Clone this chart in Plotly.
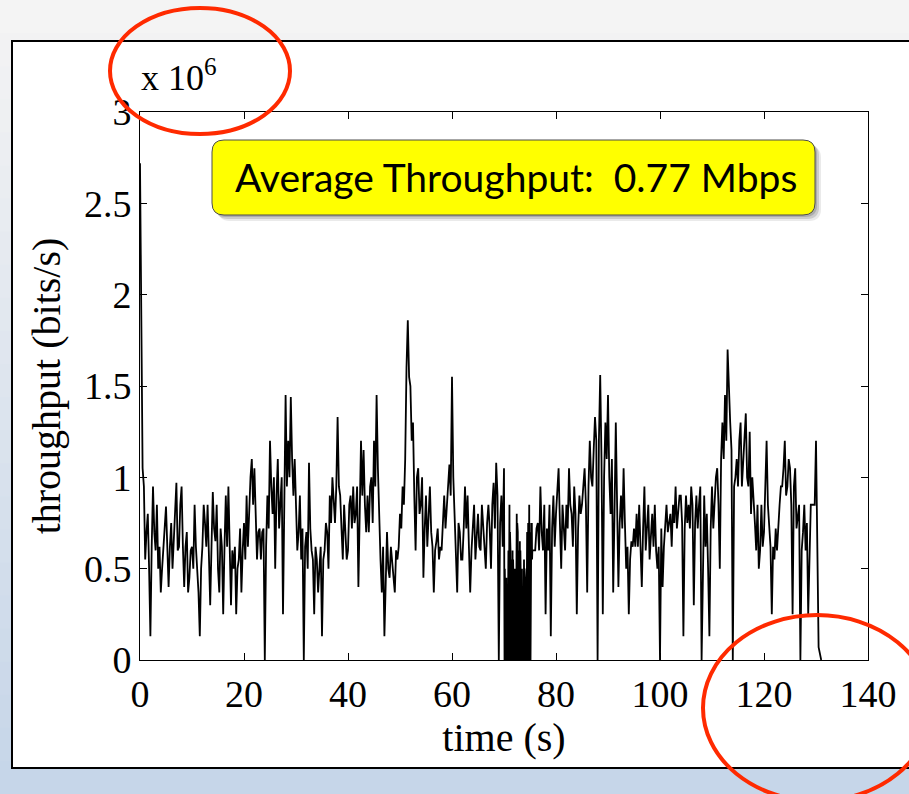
import numpy as np
import plotly.graph_objects as go

# ---- data (throughput in units of 10^6 bits/s) ----
# main samples every 0.5 s
thr_000_020 = [2.72, 1.05, 0.55, 0.8, 0.13, 0.95, 0.6, 0.5, 0.37, 0.6,
               0.84, 0.4, 0.75, 0.65, 0.97, 0.62, 0.95, 0.4, 0.7, 0.45,
               0.62, 0.85, 0.5, 0.13, 0.62, 0.75, 0.85, 0.3, 0.92, 0.65,
               0.5, 0.72, 0.25, 0.9, 0.95, 0.3, 0.5, 0.25, 0.55, 0.37]
thr_020_040 = [0.75, 0.9, 0.85, 1.1, 1.05, 0.55, 0.72, 0.7, 0.0, 0.9,
               1.2, 0.8, 0.5, 1.1, 0.9, 0.25, 1.45, 1.2, 1.44, 0.9,
               0.85, 0.7, 0.55, 0.0, 0.7, 1.08, 0.6, 0.25, 0.55, 0.5,
               0.13, 0.6, 0.7, 0.9, 1.0, 0.75, 1.33, 0.9, 0.55, 0.72]
thr_040_060 = [0.6, 0.9, 0.95, 0.8, 0.4, 1.2, 1.15, 0.7, 0.7, 1.0,
               1.2, 1.45, 0.75, 0.37, 0.13, 0.7, 0.45, 0.55, 0.37, 0.55,
               0.8, 0.95, 1.1, 1.86, 1.5, 1.3, 0.6, 1.05, 0.85, 0.45,
               0.9, 0.75, 0.7, 0.37, 0.65, 0.55, 0.6, 0.9, 0.85, 1.07]
thr_060_070 = [1.55, 0.75, 0.37, 0.7, 0.55, 0.95, 0.9, 0.37, 0.7, 0.55,
               0.8, 0.6, 0.75, 0.5, 0.85, 0.5, 0.97, 1.08, 0.0, 0.9, 1.05]
thr_076_096 = [0.6, 0.75, 0.95, 0.6, 0.25, 0.6, 0.13, 0.9, 0.8, 1.05,
               0.5, 0.75, 0.85, 1.05, 0.8, 0.95, 0.25, 0.9, 0.85, 1.05,
               0.37, 1.2, 0.95, 1.33, 0.0, 1.56, 0.25, 1.3, 1.45, 0.8,
               0.37, 1.3, 0.4, 0.9, 1.05, 0.5, 0.25, 0.65, 0.72, 0.8]
thr_096_116 = [0.85, 0.4, 0.95, 0.7, 0.55, 0.8, 0.85, 0.5, 0.0, 0.4,
               0.75, 0.7, 0.8, 0.85, 0.95, 0.8, 0.9, 0.13, 0.9, 0.85,
               0.95, 0.3, 0.9, 0.85, 0.0, 0.9, 0.8, 0.13, 0.95, 0.9,
               1.05, 0.5, 1.3, 1.45, 1.7, 1.3, 0.0, 1.0, 0.95, 1.3]
thr_116_131 = [1.1, 1.35, 0.95, 0.8, 0.9, 0.6, 0.5, 0.85, 0.7, 1.2,
               0.7, 0.25, 0.55, 0.6, 0.85, 0.95, 1.2, 0.95, 1.05, 0.25,
               1.05, 0.8, 0.0, 0.7, 0.6, 0.25, 0.85, 0.85, 1.2, 0.07, 0.0]

# in-between samples (read at the quarter seconds, t + 0.25 s)
mid_000_020 = [1.6, 0.95, 0.7, 0.5, 0.62, 0.7, 0.85, 0.62, 0.5, 0.72,
               0.62, 0.62, 0.5, 0.8, 0.6, 0.85, 0.62, 0.62, 0.37, 0.6,
               0.5, 0.62, 0.37, 0.5, 0.85, 0.62, 0.6, 0.62, 0.72, 0.85,
               0.37, 0.62, 0.62, 0.62, 0.62, 0.6, 0.62, 0.5, 0.72, 0.6]
mid_020_040 = [0.55, 0.62, 1.0, 0.85, 0.72, 0.7, 0.55, 0.72, 0.62, 0.72,
               0.95, 1.0, 0.9, 0.72, 1.0, 0.95, 0.95, 1.0, 1.1, 1.1,
               0.6, 0.9, 0.72, 0.62, 0.5, 0.72, 0.55, 0.62, 0.37, 0.62,
               0.55, 0.75, 0.5, 0.75, 0.85, 0.95, 0.95, 0.72, 0.85, 0.55]
mid_040_060 = [0.85, 0.72, 0.75, 0.95, 0.72, 0.9, 0.85, 0.9, 0.95, 0.75,
               0.95, 1.05, 0.55, 0.62, 0.5, 0.5, 0.62, 0.45, 0.6, 0.62,
               0.72, 0.85, 1.6, 1.55, 1.2, 0.9, 1.0, 0.8, 1.0, 0.72,
               0.62, 0.95, 0.62, 0.6, 0.72, 0.62, 0.75, 0.72, 0.95, 0.9]
mid_060_070 = [1.0, 0.62, 0.75, 0.55, 0.72, 0.72, 0.62, 0.6, 0.85, 0.72,
               0.62, 0.85, 0.6, 0.75, 0.72, 0.85, 0.72, 0.9, 0.75, 0.62]
mid_076_096 = [0.72, 0.6, 0.7, 0.85, 0.72, 0.85, 0.72, 0.62, 0.95, 0.75,
               0.85, 0.6, 0.72, 0.85, 0.62, 0.8, 0.72, 0.8, 0.95, 0.85,
               0.95, 1.0, 1.15, 1.2, 1.2, 1.1, 1.0, 1.1, 1.0, 1.1,
               0.8, 0.85, 0.75, 0.72, 0.75, 0.62, 0.55, 0.62, 0.62, 0.62]
mid_096_116 = [0.62, 0.72, 0.6, 0.85, 0.72, 0.62, 0.6, 0.62, 0.72, 0.62,
               0.85, 0.75, 0.62, 0.75, 0.72, 0.9, 0.75, 0.72, 0.75, 0.72,
               0.85, 0.75, 0.72, 0.95, 0.62, 0.62, 0.5, 0.72, 0.72, 1.0,
               0.85, 1.1, 1.1, 1.2, 1.45, 1.15, 0.95, 1.1, 1.2, 0.95]
mid_116_131 = [1.2, 1.0, 1.25, 1.0, 0.75, 0.85, 0.6, 0.62, 0.95, 0.85,
               0.62, 0.62, 0.72, 0.75, 0.95, 1.05, 0.9, 1.1, 0.85, 0.95,
               0.72, 0.85, 0.6, 0.85, 0.75, 0.62, 0.85, 0.85]

# outage burst 70.1 - 75.5 s: lows every 0.1 s, highs in between
burst_low = [0.0, 0.0, 0.0, 0.0, 0.0, 0.0, 0.0, 0.0, 0.0, 0.0,
             0.0, 0.0, 0.0, 0.1, 0.0, 0.0, 0.0, 0.0, 0.0, 0.0,
             0.0, 0.0, 0.0, 0.0, 0.0, 0.0, 0.0, 0.1, 0.0, 0.0,
             0.0, 0.0, 0.0, 0.0, 0.0, 0.0, 0.0, 0.0, 0.0, 0.0,
             0.0, 0.0, 0.0, 0.0, 0.0, 0.0, 0.0, 0.0, 0.0, 0.0,
             0.0, 0.3, 0.6, 0.55]
burst_high = [0.5, 0.3, 0.25, 0.45, 0.4, 0.35, 0.3, 0.6, 0.5, 0.85,
              0.7, 0.6, 0.55, 0.5, 0.45, 0.6, 0.55, 0.4, 0.45, 0.5,
              0.35, 0.45, 0.6, 0.8, 0.75, 0.7, 0.6, 0.5, 0.55, 0.65,
              0.6, 0.4, 0.45, 0.5, 0.4, 0.3, 0.45, 0.55, 0.5, 0.45,
              0.4, 0.35, 0.5, 0.7, 0.65, 0.75, 0.6, 0.85, 0.7, 0.6,
              0.45, 0.75, 0.75, 0.6]

# (segment start time in s, sample step in s, values)
segments = [(0.0, 0.5, thr_000_020), (20.0, 0.5, thr_020_040),
            (40.0, 0.5, thr_040_060), (60.0, 0.5, thr_060_070),
            (76.0, 0.5, thr_076_096), (96.0, 0.5, thr_096_116),
            (116.0, 0.5, thr_116_131),
            (0.25, 0.5, mid_000_020), (20.25, 0.5, mid_020_040),
            (40.25, 0.5, mid_040_060), (60.25, 0.5, mid_060_070),
            (76.25, 0.5, mid_076_096), (96.25, 0.5, mid_096_116),
            (116.25, 0.5, mid_116_131),
            (70.1, 0.1, burst_low), (70.15, 0.1, burst_high)]

x_ticks = [0, 20, 40, 60, 80, 100, 120, 140]
y_ticks = [0, 0.5, 1, 1.5, 2, 2.5, 3]
avg_text = "Average Throughput:  0.77 Mbps"

t_all = np.concatenate([s + st * np.arange(len(v)) for s, st, v in segments])
v_all = np.concatenate([np.array(v, dtype=float) for _, _, v in segments])
order = np.argsort(t_all, kind="stable")
time_s = t_all[order]
thr = v_all[order]

# ---- figure geometry (pixels) ----
W, H = 909, 794
L, R, T, B = 140, 868, 112, 660


def px(x):
    return (x - L) / (R - L)


def py(y):
    return (B - y) / (B - T)


fig = go.Figure()
fig.add_trace(go.Scatter(x=time_s, y=thr, mode="lines",
                         line=dict(color="black", width=1.8),
                         hoverinfo="skip", showlegend=False))

shapes = []
# slide background gradient (gray top -> light blue bottom)
n = 24
c0 = np.array([244, 244, 244])
c1 = np.array([198, 214, 233])
for i in range(n):
    f = i / (n - 1)
    c = (c0 + (c1 - c0) * f).astype(int)
    y0 = H * i / n
    y1 = H * (i + 1) / n + 1
    shapes.append(dict(type="rect", xref="paper", yref="paper",
                       x0=px(-5), x1=px(W + 5), y0=py(y1), y1=py(y0),
                       fillcolor="rgb(%d,%d,%d)" % tuple(c),
                       line=dict(width=0), layer="below"))
# white frame
shapes.append(dict(type="rect", xref="paper", yref="paper",
                   x0=px(12), x1=px(W + 10), y0=py(768), y1=py(41),
                   fillcolor="white", line=dict(color="black", width=2),
                   layer="below"))


def rrect(x0, y0, x1, y1, r):
    rx = r / (R - L)
    ry = r / (B - T)
    X0, X1 = px(x0), px(x1)
    Y0, Y1 = py(y1), py(y0)
    return (f"M {X0+rx},{Y1} L {X1-rx},{Y1} Q {X1},{Y1} {X1},{Y1-ry} "
            f"L {X1},{Y0+ry} Q {X1},{Y0} {X1-rx},{Y0} "
            f"L {X0+rx},{Y0} Q {X0},{Y0} {X0},{Y0+ry} "
            f"L {X0},{Y1-ry} Q {X0},{Y1} {X0+rx},{Y1} Z")


# shadow of the yellow box
for off, op in [(6, 0.12), (4, 0.2), (2, 0.25)]:
    shapes.append(dict(type="path", xref="paper", yref="paper",
                       path=rrect(212 + off, 140 + off, 815 + off, 215 + off, 12),
                       fillcolor="rgba(80,80,80,%.2f)" % op,
                       line=dict(width=0), layer="above"))
shapes.append(dict(type="path", xref="paper", yref="paper",
                   path=rrect(212, 140, 815, 215, 12),
                   fillcolor="#ffff00", line=dict(color="#4d4d4d", width=1),
                   layer="above"))
# red highlight ellipses
shapes.append(dict(type="circle", xref="paper", yref="paper",
                   x0=px(110), x1=px(290), y0=py(134), y1=py(8),
                   line=dict(color="#ff2a00", width=4), layer="above"))
shapes.append(dict(type="circle", xref="paper", yref="paper",
                   x0=px(703), x1=px(931), y0=py(801), y1=py(615),
                   line=dict(color="#ff2a00", width=4), layer="above"))

serif = "Liberation Serif"
fig.update_layout(
    width=W, height=H,
    margin=dict(l=L, r=W - R, t=T, b=H - B, pad=0),
    paper_bgcolor="#f4f4f4", plot_bgcolor="white",
    shapes=shapes,
    font=dict(family=serif, color="black", size=38),
    xaxis=dict(range=[0, 140], tickvals=x_ticks, ticks="inside", ticklen=7,
               tickwidth=1, tickcolor="black", showline=True, linecolor="black",
               linewidth=1, mirror="ticks", showgrid=False, zeroline=False,
               tickfont=dict(family=serif, size=38),
               title=dict(text="time (s)", font=dict(family=serif, size=40),
                          standoff=4)),
    yaxis=dict(range=[0, 3], tickvals=y_ticks, ticks="inside", ticklen=7,
               tickwidth=1, tickcolor="black", showline=True, linecolor="black",
               linewidth=1, mirror="ticks", showgrid=False, zeroline=False,
               tickfont=dict(family=serif, size=38),
               title=dict(text="throughput (bits/s)",
                          font=dict(family=serif, size=40), standoff=10)),
    annotations=[
        dict(xref="paper", yref="paper", x=px(139), y=py(76),
             xanchor="left", yanchor="middle", showarrow=False,
             text="x 10<sup>6</sup>", font=dict(family=serif, size=36)),
        dict(xref="paper", yref="paper", x=px(516), y=py(177),
             xanchor="center", yanchor="middle", showarrow=False,
             text=avg_text, font=dict(family="Lato", size=39, color="black")),
    ],
)

fig.write_html("out.html")
